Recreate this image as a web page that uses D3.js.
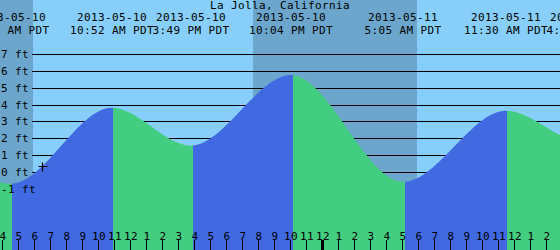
<!DOCTYPE html>
<html>
<head>
<meta charset="utf-8">
<script src="https://cdn.jsdelivr.net/npm/d3@7"></script>
<style>
  html, body { margin: 0; padding: 0; background: #87cefa; }
  svg { display: block; }
  text { font-family: "DejaVu Sans Mono", monospace; font-size: 11px; letter-spacing: 0.38px; fill: #000; }
</style>
</head>
<body>
<div id="tideGraph"></div>
<script>
document.addEventListener('DOMContentLoaded', init, false);

const stationName = "La Jolla, California";

// highs and lows (PDT wall clock), one off-chart on each side so the curve runs to the edges
const tideTimes = ["2013-05-09T21:25", "2013-05-10T04:33", "2013-05-10T10:52", "2013-05-10T15:49",
  "2013-05-10T22:04", "2013-05-11T05:05", "2013-05-11T11:30", "2013-05-11T16:25", "2013-05-11T22:45"];
const tideHeights = [5.6, -0.7, 3.81, 1.56, 5.75, -0.58, 3.64, 1.75, 5.5];

const sunsetTimes = ["2013-05-09T19:39", "2013-05-10T19:40"];
const sunriseTimes = ["2013-05-10T05:56", "2013-05-11T05:55"];

const heightTicks = [7, 6, 5, 4, 3, 2, 1, 0, -1];

const nowTime = "2013-05-10T06:29";
const nowHeight = 0.35;

const g_day = "#87cefa";
const g_night = "#6ca6cd";
const g_rise = "#4169e1";
const g_fall = "#43cd80";

function init() {
  var width = 560,
    height = 250;

  var parse = d3.utcParse("%Y-%m-%dT%H:%M");

  var tides = tideTimes.map((t, i) => ({ time: parse(t), height: tideHeights[i] }));

  // 225 s per pixel, 4 AM sits on x = 2
  var x = d3.scaleUtc()
    .domain([parse("2013-05-10T03:52").getTime() + 30000, parse("2013-05-11T14:52").getTime() + 30000])
    .range([0, width]);

  var y = d3.scaleLinear()
    .domain([-1, 7])
    .range([172 + 118 / 7, 54]);

  var svg = d3.select("#tideGraph")
    .append("svg")
    .attr("width", width)
    .attr("height", height);

  svg.append("rect")
    .attr("width", width)
    .attr("height", height)
    .attr("fill", g_day);

  // night bands
  var nights = sunsetTimes.map((s, i) => [parse(s), parse(sunriseTimes[i])]);
  svg.append("g")
    .selectAll("rect")
    .data(nights)
    .enter().append("rect")
    .attr("x", d => Math.max(0, Math.round(x(d[0]))))
    .attr("width", d => Math.round(x(d[1])) - Math.max(0, Math.round(x(d[0]))))
    .attr("y", 0)
    .attr("height", height)
    .attr("fill", g_night);

  // height grid
  svg.append("g")
    .selectAll("line")
    .data(heightTicks)
    .enter().append("line")
    .attr("x1", 32)
    .attr("x2", width)
    .attr("y1", d => Math.round(y(d)) + 0.5)
    .attr("y2", d => Math.round(y(d)) + 0.5)
    .attr("stroke", "#000")
    .attr("stroke-width", 1);

  // tide curve, coloured rising / falling
  var area = d3.area()
    .x(d => x(d.time))
    .y0(height)
    .y1(d => y(d.height))
    .curve(d3.curveMonotoneX);

  var edge = t => Math.ceil(x(t)) + 1; // colour flips on the column after the turn

  var defs = svg.append("defs");
  var segs = d3.pairs(tides);
  segs.forEach((p, i) => {
    defs.append("clipPath")
      .attr("id", "seg" + i)
      .append("rect")
      .attr("x", edge(p[0].time))
      .attr("width", edge(p[1].time) - edge(p[0].time))
      .attr("y", 0)
      .attr("height", height);
  });

  svg.append("g")
    .selectAll("path")
    .data(segs)
    .enter().append("path")
    .attr("d", area(tides))
    .attr("clip-path", (d, i) => "url(#seg" + i + ")")
    .attr("fill", d => d[1].height > d[0].height ? g_rise : g_fall);

  // hour ticks along the bottom
  var hours = x.ticks(d3.utcHour.every(1));
  svg.append("g")
    .selectAll("rect")
    .data(hours)
    .enter().append("rect")
    .attr("x", d => Math.round(x(d)) - (d.getUTCHours() === 0 ? 1 : 0))
    .attr("width", d => d.getUTCHours() === 0 ? 3 : 1)
    .attr("y", 240)
    .attr("height", 10)
    .attr("fill", "#000");

  var hourFmt = d3.utcFormat("%-I");
  svg.append("g")
    .selectAll("text")
    .data(hours)
    .enter().append("text")
    .attr("x", d => Math.round(x(d)) + 1)
    .attr("y", 240)
    .attr("text-anchor", "middle")
    .text(d => hourFmt(d));

  // height labels
  svg.append("g")
    .selectAll("text")
    .data(heightTicks)
    .enter().append("text")
    .attr("x", 1)
    .attr("y", d => Math.round(y(d)) + 4)
    .text(d => d + " ft");

  // now marker
  var nx = Math.round(x(parse(nowTime))) + 0.5,
    ny = Math.round(y(nowHeight)) + 0.5;
  svg.append("path")
    .attr("d", "M" + (nx - 4) + "," + ny + "H" + (nx + 5) + "M" + nx + "," + (ny - 4) + "V" + (ny + 5))
    .attr("stroke", "#000")
    .attr("stroke-width", 1.2);

  // header: station, then date / time of each high and low
  svg.append("text")
    .attr("x", width / 2)
    .attr("y", 9)
    .attr("text-anchor", "middle")
    .text(stationName);

  var dateFmt = d3.utcFormat("%Y-%m-%d"),
    timeFmt = d3.utcFormat("%-I:%M %p PDT");
  var shown = tides.filter(d => x(d.time) > -50 && x(d.time) < width + 50);

  var labels = svg.append("g")
    .selectAll("g")
    .data(shown)
    .enter().append("g")
    .attr("transform", d => "translate(" + Math.round(x(d.time)) + ",0)");
  labels.append("text")
    .attr("y", 21)
    .attr("text-anchor", "middle")
    .text(d => dateFmt(d.time));
  labels.append("text")
    .attr("y", 34)
    .attr("text-anchor", "middle")
    .text(d => timeFmt(d.time));
}
</script>
</body>
</html>
